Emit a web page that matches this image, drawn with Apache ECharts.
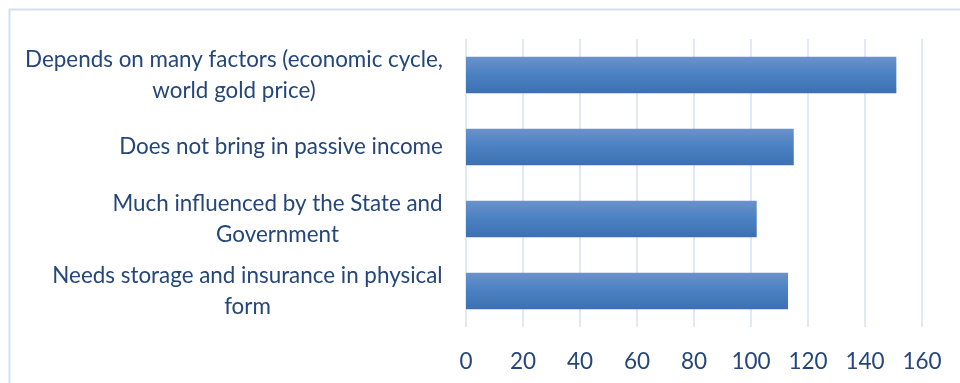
<!DOCTYPE html>
<html>
<head>
<meta charset="utf-8">
<script src="https://cdn.jsdelivr.net/npm/echarts@6/dist/echarts.min.js"></script>
<style>
  html, body { margin: 0; padding: 0; background: #fff; }
  #chart { width: 960px; height: 383px; }
</style>
</head>
<body>
<div id="chart"></div>
<script>
// Categories listed bottom to top (ECharts category y axis grows upward)
const categories = [
  'Needs storage and insurance in physical\nform',
  'Much influenced by the State and\nGovernment',
  'Does not bring in passive income',
  'Depends on many factors (economic cycle,\nworld gold price)'
];
const values = [113, 102, 115, 151];
const xTicks = { min: 0, max: 160, interval: 20 };

const FONT = 'Lato';
const LABEL_SIZE = 22.4;
const TICK_SIZE = 22.5;
const TEXT_COLOR = '#24467A';

// Measure each label's widest line so its lines can be centred within the block
const ctx = document.createElement('canvas').getContext('2d');
ctx.font = LABEL_SIZE + 'px ' + FONT;
const rich = {};
categories.forEach((c, i) => {
  const w = Math.max(...c.split('\n').map(s => ctx.measureText(s).width));
  rich['c' + i] = { width: Math.ceil(w), align: 'center', fontFamily: FONT, fontSize: LABEL_SIZE, color: TEXT_COLOR, lineHeight: 31 };
});

const chart = echarts.init(document.getElementById('chart'), null, { renderer: 'canvas' });
chart.setOption({
  animation: false,
  backgroundColor: '#ffffff',
  graphic: [{
    type: 'rect',
    shape: { x: 9.5, y: 9.5, width: 1000, height: 420 },
    style: { fill: 'none', stroke: '#D3DFEE', lineWidth: 2 },
    silent: true
  }],
  grid: { left: 466, right: 38, top: 39, bottom: 56, containLabel: false },
  xAxis: {
    type: 'value',
    min: xTicks.min, max: xTicks.max, interval: xTicks.interval,
    axisLine: { show: false },
    axisTick: { show: false },
    splitLine: { show: true, lineStyle: { color: '#D6E2F2', width: 1.5 } },
    axisLabel: { fontFamily: FONT, fontSize: TICK_SIZE, color: TEXT_COLOR, margin: 23 }
  },
  yAxis: {
    type: 'category',
    data: categories,
    axisLine: { show: false },
    axisTick: { show: false },
    axisLabel: {
      margin: 23,
      align: 'right',
      formatter: (v, i) => v.split('\n').map(s => '{c' + i + '|' + s + '}').join('\n'),
      rich: rich
    }
  },
  series: [{
    type: 'bar',
    data: values,
    barCategoryGap: '49%',
    itemStyle: {
      color: new echarts.graphic.LinearGradient(0, 0, 0, 1, [
        { offset: 0, color: '#6B92CA' },
        { offset: 0.5, color: '#4A80C2' },
        { offset: 1, color: '#3D70B1' }
      ])
    }
  }]
});
</script>
</body>
</html>
